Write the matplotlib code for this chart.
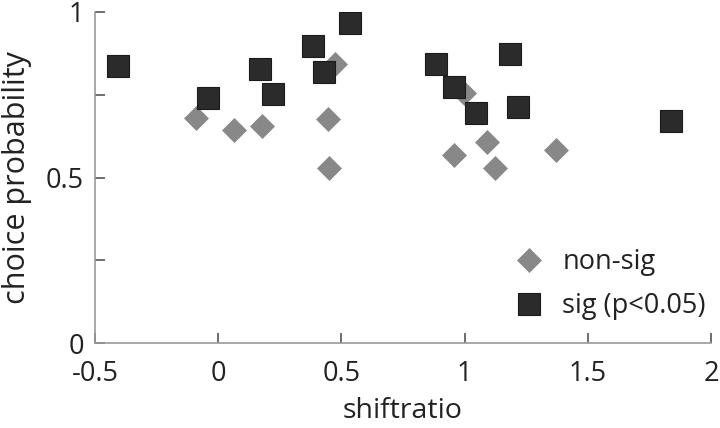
import numpy as np
import matplotlib.pyplot as plt

plt.rcParams['font.family'] = ['Open Sans', 'DejaVu Sans']

# non-significant cells
ns_x = [-0.09, 0.065, 0.177, 0.444, 0.448, 0.476, 0.996, 0.956, 1.089, 1.125, 1.371]
ns_y = [0.680, 0.644, 0.656, 0.677, 0.528, 0.843, 0.755, 0.568, 0.607, 0.529, 0.583]

# significant cells (p<0.05)
sig_x = [-0.407, -0.04, 0.169, 0.222, 0.383, 0.431, 0.536, 0.883, 0.956, 1.048, 1.185, 1.218, 1.839]
sig_y = [0.837, 0.740, 0.828, 0.752, 0.897, 0.819, 0.967, 0.843, 0.773, 0.695, 0.873, 0.713, 0.671]

grey = '#888888'
dark = '#2b2b2b'
axcol = '#999999'
txt = '#222222'
fs = 19.5

fig = plt.figure(figsize=(7.2, 4.28), dpi=100)
ax = fig.add_axes([95/720, 1 - 343/428, 616/720, 331/428])

ax.plot(ns_x, ns_y, 'D', ms=11.8, color=grey, mec=grey, mew=0.5, label='non-sig', zorder=2)
ax.plot(sig_x, sig_y, 's', ms=16.5, color=dark, mec='#1a1a1a', mew=0.8, label='sig (p<0.05)', zorder=3)

ax.set_xlim(-0.5, 2)
ax.set_ylim(0, 1)
ax.set_xticks([-0.5, 0, 0.5, 1, 1.5, 2])
ax.set_xticklabels(['-0.5', '0', '0.5', '1', '1.5', '2'])
ax.set_yticks([0, 0.25, 0.5, 0.75, 1])
ax.set_yticklabels(['0', '', '0.5', '', '1'])

for s in ['top', 'right']:
    ax.spines[s].set_visible(False)
for s in ['left', 'bottom']:
    ax.spines[s].set_color(axcol)
    ax.spines[s].set_linewidth(1.2)
ax.tick_params(direction='in', length=7, width=1.2, color='#555555',
               labelsize=fs, labelcolor=txt)
ax.tick_params(axis='x', pad=12)
ax.tick_params(axis='y', pad=8)

ax.set_xlabel('shiftratio', fontsize=fs + 1, color=txt, labelpad=7)
ax.set_ylabel('choice probability', fontsize=fs + 2.5, color=txt, labelpad=10)

leg = ax.legend(loc='upper left', bbox_to_anchor=(515/720, 1 - 248/428),
                bbox_transform=fig.transFigure, frameon=False,
                fontsize=fs, handlelength=1.0, handletextpad=0.75,
                labelspacing=0.6, borderpad=0, borderaxespad=0,
                labelcolor=txt)

fig.savefig('out.png', dpi=100)
